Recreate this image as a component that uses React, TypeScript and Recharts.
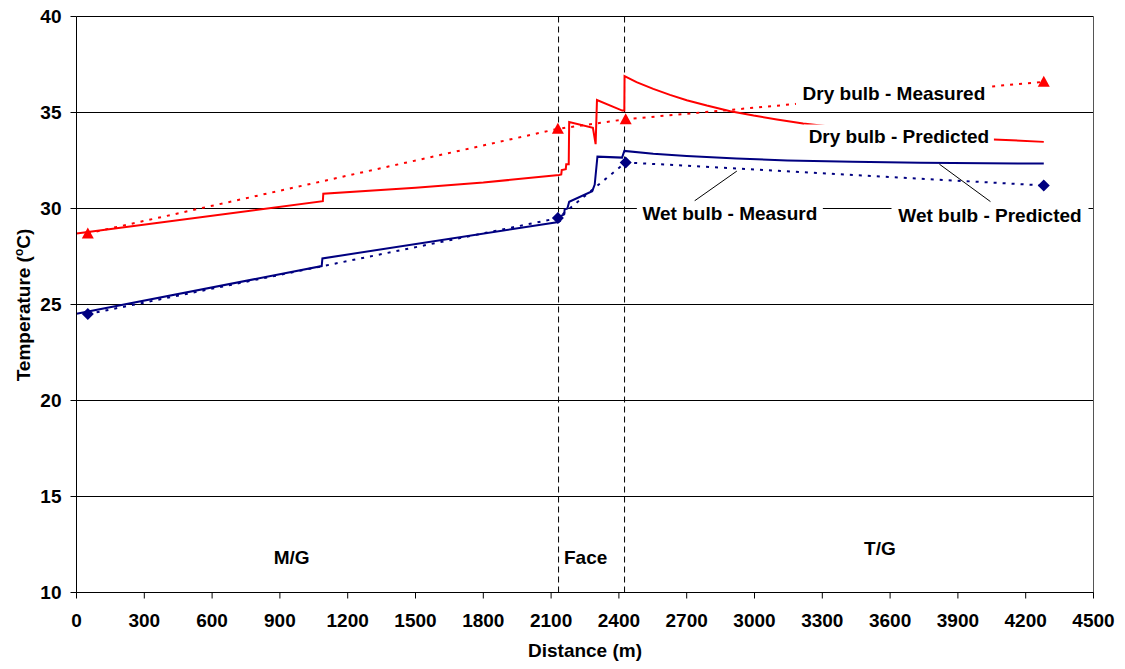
import React from 'react';
import { LineChart, Line, XAxis, YAxis, CartesianGrid, ReferenceLine, ReferenceDot } from 'recharts';

// Measured points
const measuredDistance = [50, 2130, 2430, 4280];
const dryMeasured = [28.7, 34.15, 34.65, 36.6];
const wetMeasured = [24.5, 29.5, 32.4, 31.2];

// Predicted (step-wise profiles)
const dryPredDistance = [0, 1090, 1092, 1500, 1800, 2135, 2145, 2147, 2165, 2167, 2178, 2180, 2285, 2297, 2303, 2415, 2424, 2425, 2478, 2552, 2626, 2700, 2789, 2893, 2996, 3099, 3215, 3400, 3600, 3800, 4057, 4280];
const dryPredicted = [28.7, 30.38, 30.77, 31.08, 31.35, 31.75, 31.77, 32.0, 32.05, 32.3, 32.3, 34.5, 34.2, 33.35, 35.65, 35.1, 35.1, 36.9, 36.58, 36.23, 35.92, 35.64, 35.36, 35.07, 34.84, 34.64, 34.43, 34.18, 33.95, 33.78, 33.6, 33.47];

const wetPredDistance = [0, 1085, 1088, 2133, 2140, 2142, 2158, 2160, 2172, 2180, 2282, 2293, 2305, 2414, 2424, 2552, 2700, 2920, 3145, 3435, 3734, 4280];
const wetPredicted = [24.52, 27.0, 27.4, 29.3, 29.35, 29.6, 29.7, 29.95, 30.0, 30.35, 30.9, 31.25, 32.7, 32.65, 33.0, 32.85, 32.73, 32.6, 32.5, 32.43, 32.38, 32.34];

const xTicks = [0, 300, 600, 900, 1200, 1500, 1800, 2100, 2400, 2700, 3000, 3300, 3600, 3900, 4200, 4500];
const yTicks = [10, 15, 20, 25, 30, 35, 40];

const faceBoundaries = [2133, 2425];

const zoneLabels = ['M/G', 'Face', 'T/G'];
const zoneX = [952, 2253, 3555];
const zoneY = [11.82, 11.82, 12.3];

const seriesLabels = ['Dry bulb - Measured', 'Dry bulb - Predicted', 'Wet bulb - Measurd', 'Wet bulb - Predicted'];
const seriesLabelX = [3617, 3639, 2891, 4042];
const seriesLabelY = [35.99, 33.75, 29.74, 29.64];
const seriesLabelBox = [196, 190, 186, 197];

const leaderLines = [
  [{ x: 2735, y: 30.4 }, { x: 2922, y: 31.95 }],
  [{ x: 4044, y: 30.36 }, { x: 3818, y: 32.31 }],
];

const zip = (xs: number[], ys: number[]) => xs.map((x, i) => ({ x, y: ys[i] }));
const dryMeasuredData = zip(measuredDistance, dryMeasured);
const wetMeasuredData = zip(measuredDistance, wetMeasured);
const dryPredData = zip(dryPredDistance, dryPredicted);
const wetPredData = zip(wetPredDistance, wetPredicted);

const FONT = '"Liberation Sans", Arial, sans-serif';

const Triangle = (props: any) => {
  const { cx, cy } = props;
  if (cx == null || cy == null) return null;
  return <polygon points={`${cx},${cy - 6} ${cx - 6},${cy + 5} ${cx + 6},${cy + 5}`} fill="#FF0000" />;
};

const Diamond = (props: any) => {
  const { cx, cy } = props;
  if (cx == null || cy == null) return null;
  return <polygon points={`${cx},${cy - 6} ${cx + 6},${cy} ${cx},${cy + 6} ${cx - 6},${cy}`} fill="#000080" />;
};

const YTitle = () => (
  <text x={0} y={0} transform="translate(23,305) rotate(-90)" dy="0.35em" textAnchor="middle" fontFamily={FONT} fontWeight="bold" fontSize={19} fill="#000">
    Temperature (<tspan fontSize={12} dy={-7}>o</tspan><tspan dy={7}>C)</tspan>
  </text>
);

export default function App() {
  return (
    <div style={{ position: 'absolute', left: 0, top: 0, width: 1125, height: 669, background: '#fff' }}>
      <LineChart width={1125} height={669} margin={{ top: 16.5, right: 31.5, bottom: 16.5, left: 0 }} style={{ fontFamily: FONT }}>
        <CartesianGrid vertical={false} stroke="#000" strokeWidth={1} />
        <XAxis
          type="number"
          dataKey="x"
          domain={[0, 4500]}
          ticks={xTicks}
          interval={0}
          allowDataOverflow
          height={60}
          tickSize={6}
          tickMargin={15}
          stroke="#000"
          tick={{ fontSize: 19, fontWeight: 'bold', fill: '#000', fontFamily: FONT }}
          label={{ value: 'Distance (m)', position: 'insideBottom', offset: -4, style: { fontSize: 19, fontWeight: 'bold', fill: '#000', fontFamily: FONT } }}
        />
        <YAxis
          type="number"
          domain={[10, 40]}
          ticks={yTicks}
          interval={0}
          width={76.5}
          tickSize={6}
          tickMargin={9}
          stroke="#000"
          tick={{ fontSize: 19, fontWeight: 'bold', fill: '#000', fontFamily: FONT }}
          label={<YTitle />}
        />
        <ReferenceLine x={4500} stroke="#555" strokeWidth={1} />
        {faceBoundaries.map((b, i) => (
          <ReferenceLine key={'fb' + i} x={b} stroke="#000" strokeWidth={1} strokeDasharray="6 4" />
        ))}
        <Line data={dryMeasuredData} dataKey="y" type="linear" stroke="#FF0000" strokeWidth={2} strokeDasharray="3 6" dot={<Triangle />} activeDot={false} isAnimationActive={false} />
        <Line data={wetMeasuredData} dataKey="y" type="linear" stroke="#000080" strokeWidth={2} strokeDasharray="3 6" dot={<Diamond />} activeDot={false} isAnimationActive={false} />
        <Line data={dryPredData} dataKey="y" type="linear" stroke="#FF0000" strokeWidth={2} dot={false} activeDot={false} isAnimationActive={false} />
        <Line data={wetPredData} dataKey="y" type="linear" stroke="#000080" strokeWidth={2} dot={false} activeDot={false} isAnimationActive={false} />
        {leaderLines.map((seg, i) => (
          <ReferenceLine key={'ll' + i} segment={seg} stroke="#000" strokeWidth={1} />
        ))}
        {seriesLabels.map((t, i) => (
          <ReferenceDot
            key={'sl' + i}
            x={seriesLabelX[i]}
            y={seriesLabelY[i]}
            r={0}
            shape={(p: any) => (
              <g>
                <rect x={p.cx - seriesLabelBox[i] / 2} y={p.cy - 12} width={seriesLabelBox[i]} height={24} fill="#fff" />
                <text x={p.cx} y={p.cy} dy="0.35em" textAnchor="middle" fontFamily={FONT} fontWeight="bold" fontSize={19} fill="#000">{t}</text>
              </g>
            )}
          />
        ))}
        {zoneLabels.map((t, i) => (
          <ReferenceDot
            key={'zl' + i}
            x={zoneX[i]}
            y={zoneY[i]}
            r={0}
            shape={(p: any) => (
              <text x={p.cx} y={p.cy} dy="0.35em" textAnchor="middle" fontFamily={FONT} fontWeight="bold" fontSize={19} fill="#000">{t}</text>
            )}
          />
        ))}
      </LineChart>
    </div>
  );
}
